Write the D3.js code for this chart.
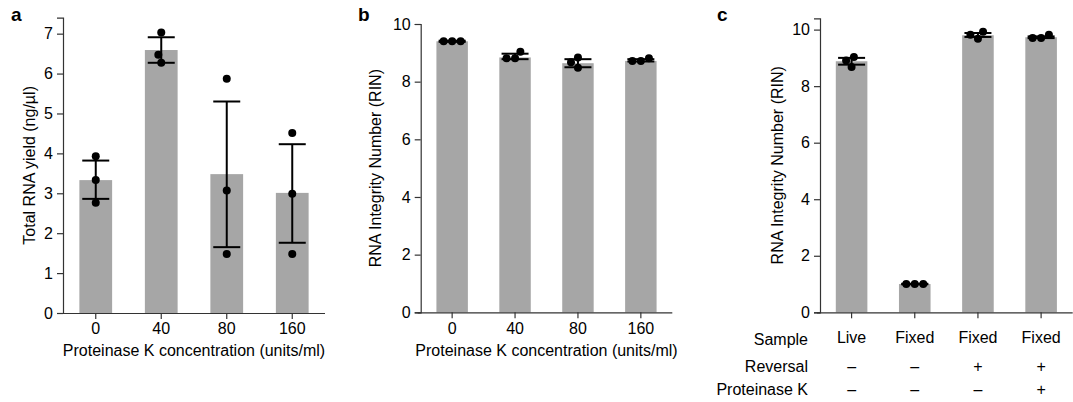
<!DOCTYPE html>
<html>
<head>
<meta charset="utf-8">
<script src="https://cdn.jsdelivr.net/npm/d3@7"></script>
<style>
  html, body { margin: 0; padding: 0; background: #fff; }
  svg { display: block; font-family: "Liberation Sans", Arial, sans-serif; }
</style>
</head>
<body>
<svg id="chart" width="1073" height="402"></svg>
<script>
// ---------- Data ----------
// Panel a: Total RNA yield
const catsA = ["0", "40", "80", "160"];
const meanA = [3.33, 6.59, 3.48, 3.01];
const errHiA = [3.82, 6.91, 5.30, 4.23];
const errLoA = [2.86, 6.27, 1.65, 1.76];
const pointsA = [[3.93, 3.33, 2.76], [7.03, 6.27, 6.47], [5.87, 3.07, 1.48], [4.51, 2.99, 1.48]];
const ticksA = [0, 1, 2, 3, 4, 5, 6, 7];

// Panel b: RIN vs Proteinase K
const catsB = ["0", "40", "80", "160"];
const meanB = [9.40, 8.84, 8.64, 8.72];
const errHiB = [9.42, 8.97, 8.78, 8.78];
const errLoB = [9.38, 8.78, 8.50, 8.70];
const pointsB = [[9.40, 9.40, 9.40], [8.81, 8.81, 9.04], [8.84, 8.48, 8.67], [8.72, 8.72, 8.81]];
const ticksB = [0, 2, 4, 6, 8, 10];

// Panel c: RIN by sample treatment
const catsC = ["Live", "Fixed", "Fixed ", "Fixed  "];
const sampleC = ["Live", "Fixed", "Fixed", "Fixed"];
const reversalC = ["\u2013", "\u2013", "+", "+"];
const protKC = ["\u2013", "\u2013", "\u2013", "+"];
const rowLabelsC = ["Sample", "Reversal", "Proteinase K"];
const meanC = [8.88, 1.00, 9.80, 9.73];
const errHiC = [9.00, 1.01, 9.88, 9.76];
const errLoC = [8.76, 0.99, 9.74, 9.70];
const pointsC = [[8.68, 8.91, 9.03], [1.00, 1.00, 1.00], [9.68, 9.82, 9.92], [9.70, 9.70, 9.82]];
const ticksC = [0, 2, 4, 6, 8, 10];

// ---------- Drawing ----------
const svg = d3.select("#chart");
const FONT = 16;
const barColor = "#a6a6a6";
const axisColor = "#333";
const R = 4;

function swarm(vals, y) {
  const D = 2 * R + 0.5;
  const placed = [];
  return vals.map(v => {
    const py = y(v);
    const intervals = [];
    placed.forEach(p => {
      const dy = Math.abs(p.y - py);
      if (dy < D) {
        const w = Math.sqrt(D * D - dy * dy);
        intervals.push([p.x - w, p.x + w]);
      }
    });
    const cands = [0];
    intervals.forEach(iv => { cands.push(iv[0], iv[1]); });
    const ok = cands.filter(c => intervals.every(iv => !(c > iv[0] + 1e-6 && c < iv[1] - 1e-6)));
    ok.sort((a, b) => Math.abs(a) - Math.abs(b) || a - b);
    const x = ok[0];
    placed.push({ x, y: py });
    return { v, dx: x };
  });
}

function panel(opt) {
  const g = svg.append("g");
  const x = d3.scaleBand().domain(opt.cats).range([opt.x0, opt.x1]).paddingInner(0.5).paddingOuter(0.25);
  const y = d3.scaleLinear().domain([0, opt.ymax]).range([opt.y0, opt.y1]);

  // bars
  g.selectAll(".bar").data(opt.cats).join("rect")
    .attr("x", d => x(d)).attr("width", x.bandwidth())
    .attr("y", (d, i) => y(opt.mean[i]))
    .attr("height", (d, i) => y(0) - y(opt.mean[i]))
    .attr("fill", barColor);

  // error bars
  const capW = 27;
  opt.cats.forEach((c, i) => {
    const cx = x(c) + x.bandwidth() / 2;
    const eg = g.append("g").attr("stroke", "#000").attr("stroke-width", 2);
    eg.append("line").attr("x1", cx).attr("x2", cx).attr("y1", y(opt.hi[i])).attr("y2", y(opt.lo[i]));
    eg.append("line").attr("x1", cx - capW / 2).attr("x2", cx + capW / 2).attr("y1", y(opt.hi[i])).attr("y2", y(opt.hi[i]));
    eg.append("line").attr("x1", cx - capW / 2).attr("x2", cx + capW / 2).attr("y1", y(opt.lo[i])).attr("y2", y(opt.lo[i]));
    // points
    swarm(opt.points[i], y).forEach(p => {
      g.append("circle").attr("cx", cx + p.dx).attr("cy", y(p.v)).attr("r", R).attr("fill", "#000");
    });
  });

  // y axis
  const ya = g.append("g").attr("transform", `translate(${opt.x0},0)`)
    .call(d3.axisLeft(y).tickValues(opt.ticks).tickSize(6).tickPadding(4).tickFormat(d3.format("d")));
  ya.select(".domain").attr("stroke", axisColor).attr("stroke-width", 1.2);
  ya.selectAll(".tick line").attr("stroke", axisColor).attr("stroke-width", 1.2);
  ya.selectAll("text").attr("font-size", FONT).attr("fill", "#000").attr("font-family", "Liberation Sans, Arial, sans-serif");

  // x axis
  const xa = g.append("g").attr("transform", `translate(0,${opt.y0})`)
    .call(d3.axisBottom(x).tickSizeInner(6).tickSizeOuter(0).tickPadding(opt.xTickPad).tickFormat(opt.xFormat || (d => d)));
  xa.select(".domain").attr("stroke", axisColor).attr("stroke-width", 1.2)
    .attr("d", `M${opt.x0 - 3},0.5H${opt.x1}`);
  xa.selectAll(".tick line").attr("stroke", axisColor).attr("stroke-width", 1.2);
  xa.selectAll("text").attr("font-size", FONT).attr("fill", "#000").attr("font-family", "Liberation Sans, Arial, sans-serif");

  // y title
  g.append("text")
    .attr("transform", `translate(${opt.yTitleX},${(opt.y0 + opt.y1) / 2 + opt.yTitleDy}) rotate(-90)`)
    .attr("text-anchor", "middle").attr("font-size", FONT).text(opt.yTitle);

  // x title
  if (opt.xTitle) {
    g.append("text").attr("x", (opt.x0 + opt.x1) / 2).attr("y", 355.5)
      .attr("text-anchor", "middle").attr("font-size", FONT).text(opt.xTitle);
  }

  // panel letter
  g.append("text").attr("x", opt.letterX).attr("y", 20.5)
    .attr("font-size", 19).attr("font-weight", "bold").text(opt.letter);
  return { x, y };
}

panel({
  cats: catsA, mean: meanA, hi: errHiA, lo: errLoA, points: pointsA, ticks: ticksA,
  x0: 63, x1: 325, y0: 313, y1: 17.7, ymax: 7.4, xTickPad: 4,
  yTitle: "Total RNA yield (ng/\u00b5l)", yTitleX: 35, yTitleDy: 0,
  xTitle: "Proteinase K concentration (units/ml)", letter: "a", letterX: 11
});

panel({
  cats: catsB, mean: meanB, hi: errHiB, lo: errLoB, points: pointsB, ticks: ticksB,
  x0: 420.7, x1: 672.3, y0: 312.3, y1: 24, ymax: 10, xTickPad: 4,
  yTitle: "RNA Integrity Number (RIN)", yTitleX: 381, yTitleDy: 0,
  xTitle: "Proteinase K concentration (units/ml)", letter: "b", letterX: 358
});

const pc = panel({
  cats: catsC, mean: meanC, hi: errHiC, lo: errLoC, points: pointsC, ticks: ticksC,
  x0: 820, x1: 1072.7, y0: 312.3, y1: 18.3, ymax: 10.4, xTickPad: 13,
  xFormat: (d, i) => sampleC[i],
  yTitle: "RNA Integrity Number (RIN)", yTitleX: 783, yTitleDy: 0,
  xTitle: null, letter: "c", letterX: 717
});

// treatment rows for panel c
const rowsY = [345, 371.5, 395];
rowLabelsC.forEach((lab, r) => {
  svg.append("text").attr("x", 808).attr("y", rowsY[r]).attr("text-anchor", "end")
    .attr("font-size", FONT).text(lab);
});
[reversalC, protKC].forEach((row, r) => {
  row.forEach((s, i) => {
    svg.append("text").attr("x", pc.x(catsC[i]) + pc.x.bandwidth() / 2).attr("y", rowsY[r + 1])
      .attr("text-anchor", "middle").attr("font-size", FONT).text(s);
  });
});
</script>
</body>
</html>
